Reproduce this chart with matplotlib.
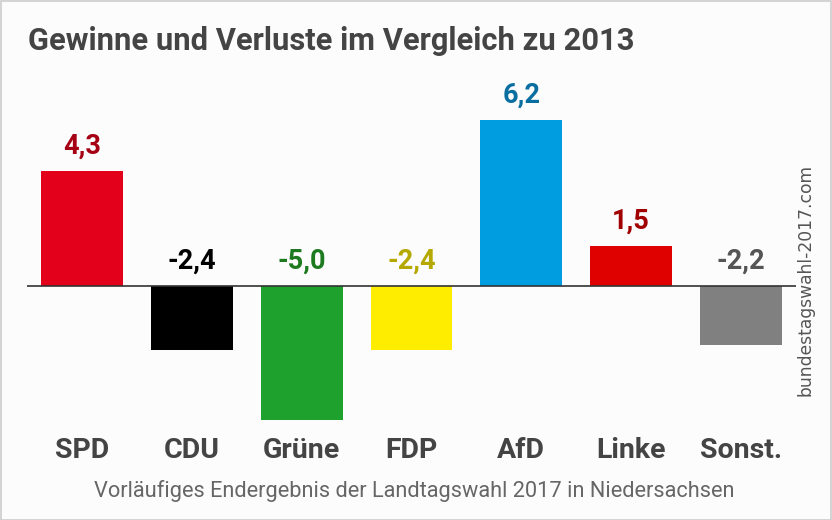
import matplotlib
matplotlib.use("Agg")
import matplotlib.pyplot as plt
from matplotlib.patches import Rectangle

parties = ["SPD", "CDU", "Grüne", "FDP", "AfD", "Linke", "Sonst."]
changes = [4.3, -2.4, -5.0, -2.4, 6.2, 1.5, -2.2]
labels = ["4,3", "-2,4", "-5,0", "-2,4", "6,2", "1,5", "-2,2"]
bar_colors = ["#e3001b", "#000000", "#1fa12e", "#ffed00", "#009ee0", "#df0000", "#808080"]
label_colors = ["#a50014", "#000000", "#1e7a1e", "#b5a800", "#0a6fa0", "#a00000", "#555555"]

title = "Gewinne und Verluste im Vergleich zu 2013"
subtitle = "Vorläufiges Endergebnis der Landtagswahl 2017 in Niedersachsen"
watermark = "bundestagswahl-2017.com"

W, H = 832, 520
fig = plt.figure(figsize=(W / 100, H / 100), dpi=100)
fig.patch.set_facecolor("#fcfcfc")

# border
fig.add_artist(Rectangle((0.5 / W, 0.5 / H), 1 - 1.5 / W, 1 - 1.5 / H, transform=fig.transFigure,
                         fill=False, edgecolor="#cccccc", linewidth=1.2))

ax_left, ax_right = 27, 796
ax_top, ax_bot = 100, 430
ax = fig.add_axes([ax_left / W, (H - ax_bot) / H, (ax_right - ax_left) / W, (ax_bot - ax_top) / H])
ax.set_facecolor("none")
ppu = 26.8
zero = 286
ax.set_ylim(-(ax_bot - zero) / ppu, (zero - ax_top) / ppu)
ax.set_xlim(-0.5, len(parties) - 0.5)

x = list(range(len(parties)))
ax.bar(x, changes, width=0.745, color=bar_colors, zorder=2)
ax.axhline(0, color="#333333", linewidth=1.2, zorder=3)

for xi, v, lab, c in zip(x, changes, labels, label_colors):
    base = v if v > 0 else 0
    ax.annotate(lab, (xi, base), xytext=(0, 8.0), textcoords="offset points",
                ha="center", va="bottom", fontsize=19.5, fontweight="bold",
                color=c, family=["Roboto", "DejaVu Sans"])

for s in ax.spines.values():
    s.set_visible(False)
ax.set_xticks([])
ax.set_yticks([])

# category labels
for xi, p in zip(x, parties):
    px = ax_left + (xi + 0.5) * (ax_right - ax_left) / len(parties)
    fig.text(px / W, 1 - 450 / H, p, ha="center", va="center", fontsize=20.5,
             fontweight="bold", color="#444444", family=["Roboto", "DejaVu Sans"])

fig.text(28 / W, 1 - 41 / H, title, ha="left", va="center", fontsize=22.2,
         fontweight="bold", color="#444444", family=["Roboto", "DejaVu Sans"])

fig.text(414 / W, 1 - 491 / H, subtitle, ha="center", va="center", fontsize=15.7,
         color="#666666", family=["Roboto", "DejaVu Sans"])

fig.text(806 / W, 1 - 280 / H, watermark, ha="center", va="center", rotation=90,
         fontsize=12.3, color="#555555", family=["DejaVu Sans"])

fig.savefig("out.png", dpi=100, facecolor=fig.get_facecolor())
